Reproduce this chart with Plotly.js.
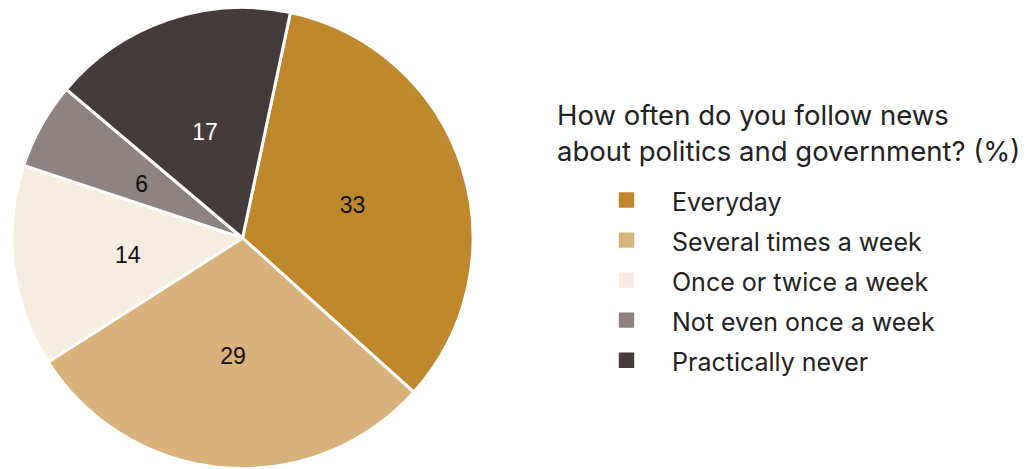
<!DOCTYPE html>
<html><head><meta charset="utf-8">
<script src="https://cdn.plot.ly/plotly-3.0.1.min.js"></script>
<style>html,body{margin:0;padding:0;background:#fff;}#chart{width:1027px;height:469px;}</style>
</head><body><div id="chart"></div>
<script>
const categories = ["Everyday", "Several times a week", "Once or twice a week", "Not even once a week", "Practically never"];
const values = [33, 29, 14, 6, 17];
const colors = ["#C0882C", "#D8B27A", "#F5EDE0", "#8D8481", "#443C3B"];
const textColors = ["#111", "#111", "#111", "#111", "#fff"];
const questionTitle = "How often do you follow news<br>about politics and government? (%)";

const W = 1027, H = 469;
// pie geometry in px
const cx = 242.5, cy = 238, R = 230.5;
const labelCy = 241, labelR = 136, labelHole = 0.7;
function dom(x0, y0, r) {
  return {x: [(x0 - r) / W, (x0 + r) / W], y: [(H - (y0 + r)) / H, (H - (y0 - r)) / H]};
}

const mainPie = {
  type: "pie",
  labels: categories,
  values: values,
  sort: false,
  direction: "clockwise",
  rotation: 12,
  marker: {colors: colors, line: {color: "#fff", width: 3}},
  textinfo: "none",
  hoverinfo: "label+value",
  domain: dom(cx, cy, R)
};

// transparent overlay pie that only carries the value labels
const labelPie = {
  type: "pie",
  labels: categories,
  values: values,
  sort: false,
  direction: "clockwise",
  rotation: 12,
  hole: labelHole,
  showlegend: false,
  marker: {colors: categories.map(() => "rgba(0,0,0,0)"), line: {width: 0}},
  textinfo: "value",
  textposition: "inside",
  insidetextorientation: "horizontal",
  insidetextfont: {family: "Liberation Sans, Arial, sans-serif", size: 23, color: textColors},
  hoverinfo: "skip",
  domain: dom(cx, labelCy, labelR)
};

const layout = {
  width: W, height: H,
  margin: {l: 0, r: 0, t: 0, b: 0},
  paper_bgcolor: "#fff",
  showlegend: true,
  legend: {
    x: 581 / W, y: 1 - 175 / H, xanchor: "left", yanchor: "top",
    font: {family: "Inter, sans-serif", size: 28.5, color: "#222"},
    itemwidth: 81
  },
  annotations: [{
    text: questionTitle, showarrow: false, align: "left",
    xref: "paper", yref: "paper", x: 555 / W, y: 1 - 96 / H,
    xanchor: "left", yanchor: "top",
    font: {family: "Inter, sans-serif", size: 27.5, color: "#222"}
  }]
};

Plotly.newPlot("chart", [mainPie, labelPie], layout, {displayModeBar: false, staticPlot: true}).then(gd => {
  document.querySelectorAll(".legend .legendpoints path").forEach(p => p.setAttribute("d", "M9.2,9.2H-9.2V-9.2H9.2Z"));
  document.querySelectorAll(".legend .legendtext").forEach(t => t.setAttribute("style", (t.getAttribute("style") || "") + ";font-size:25px"));
});
</script></body></html>
